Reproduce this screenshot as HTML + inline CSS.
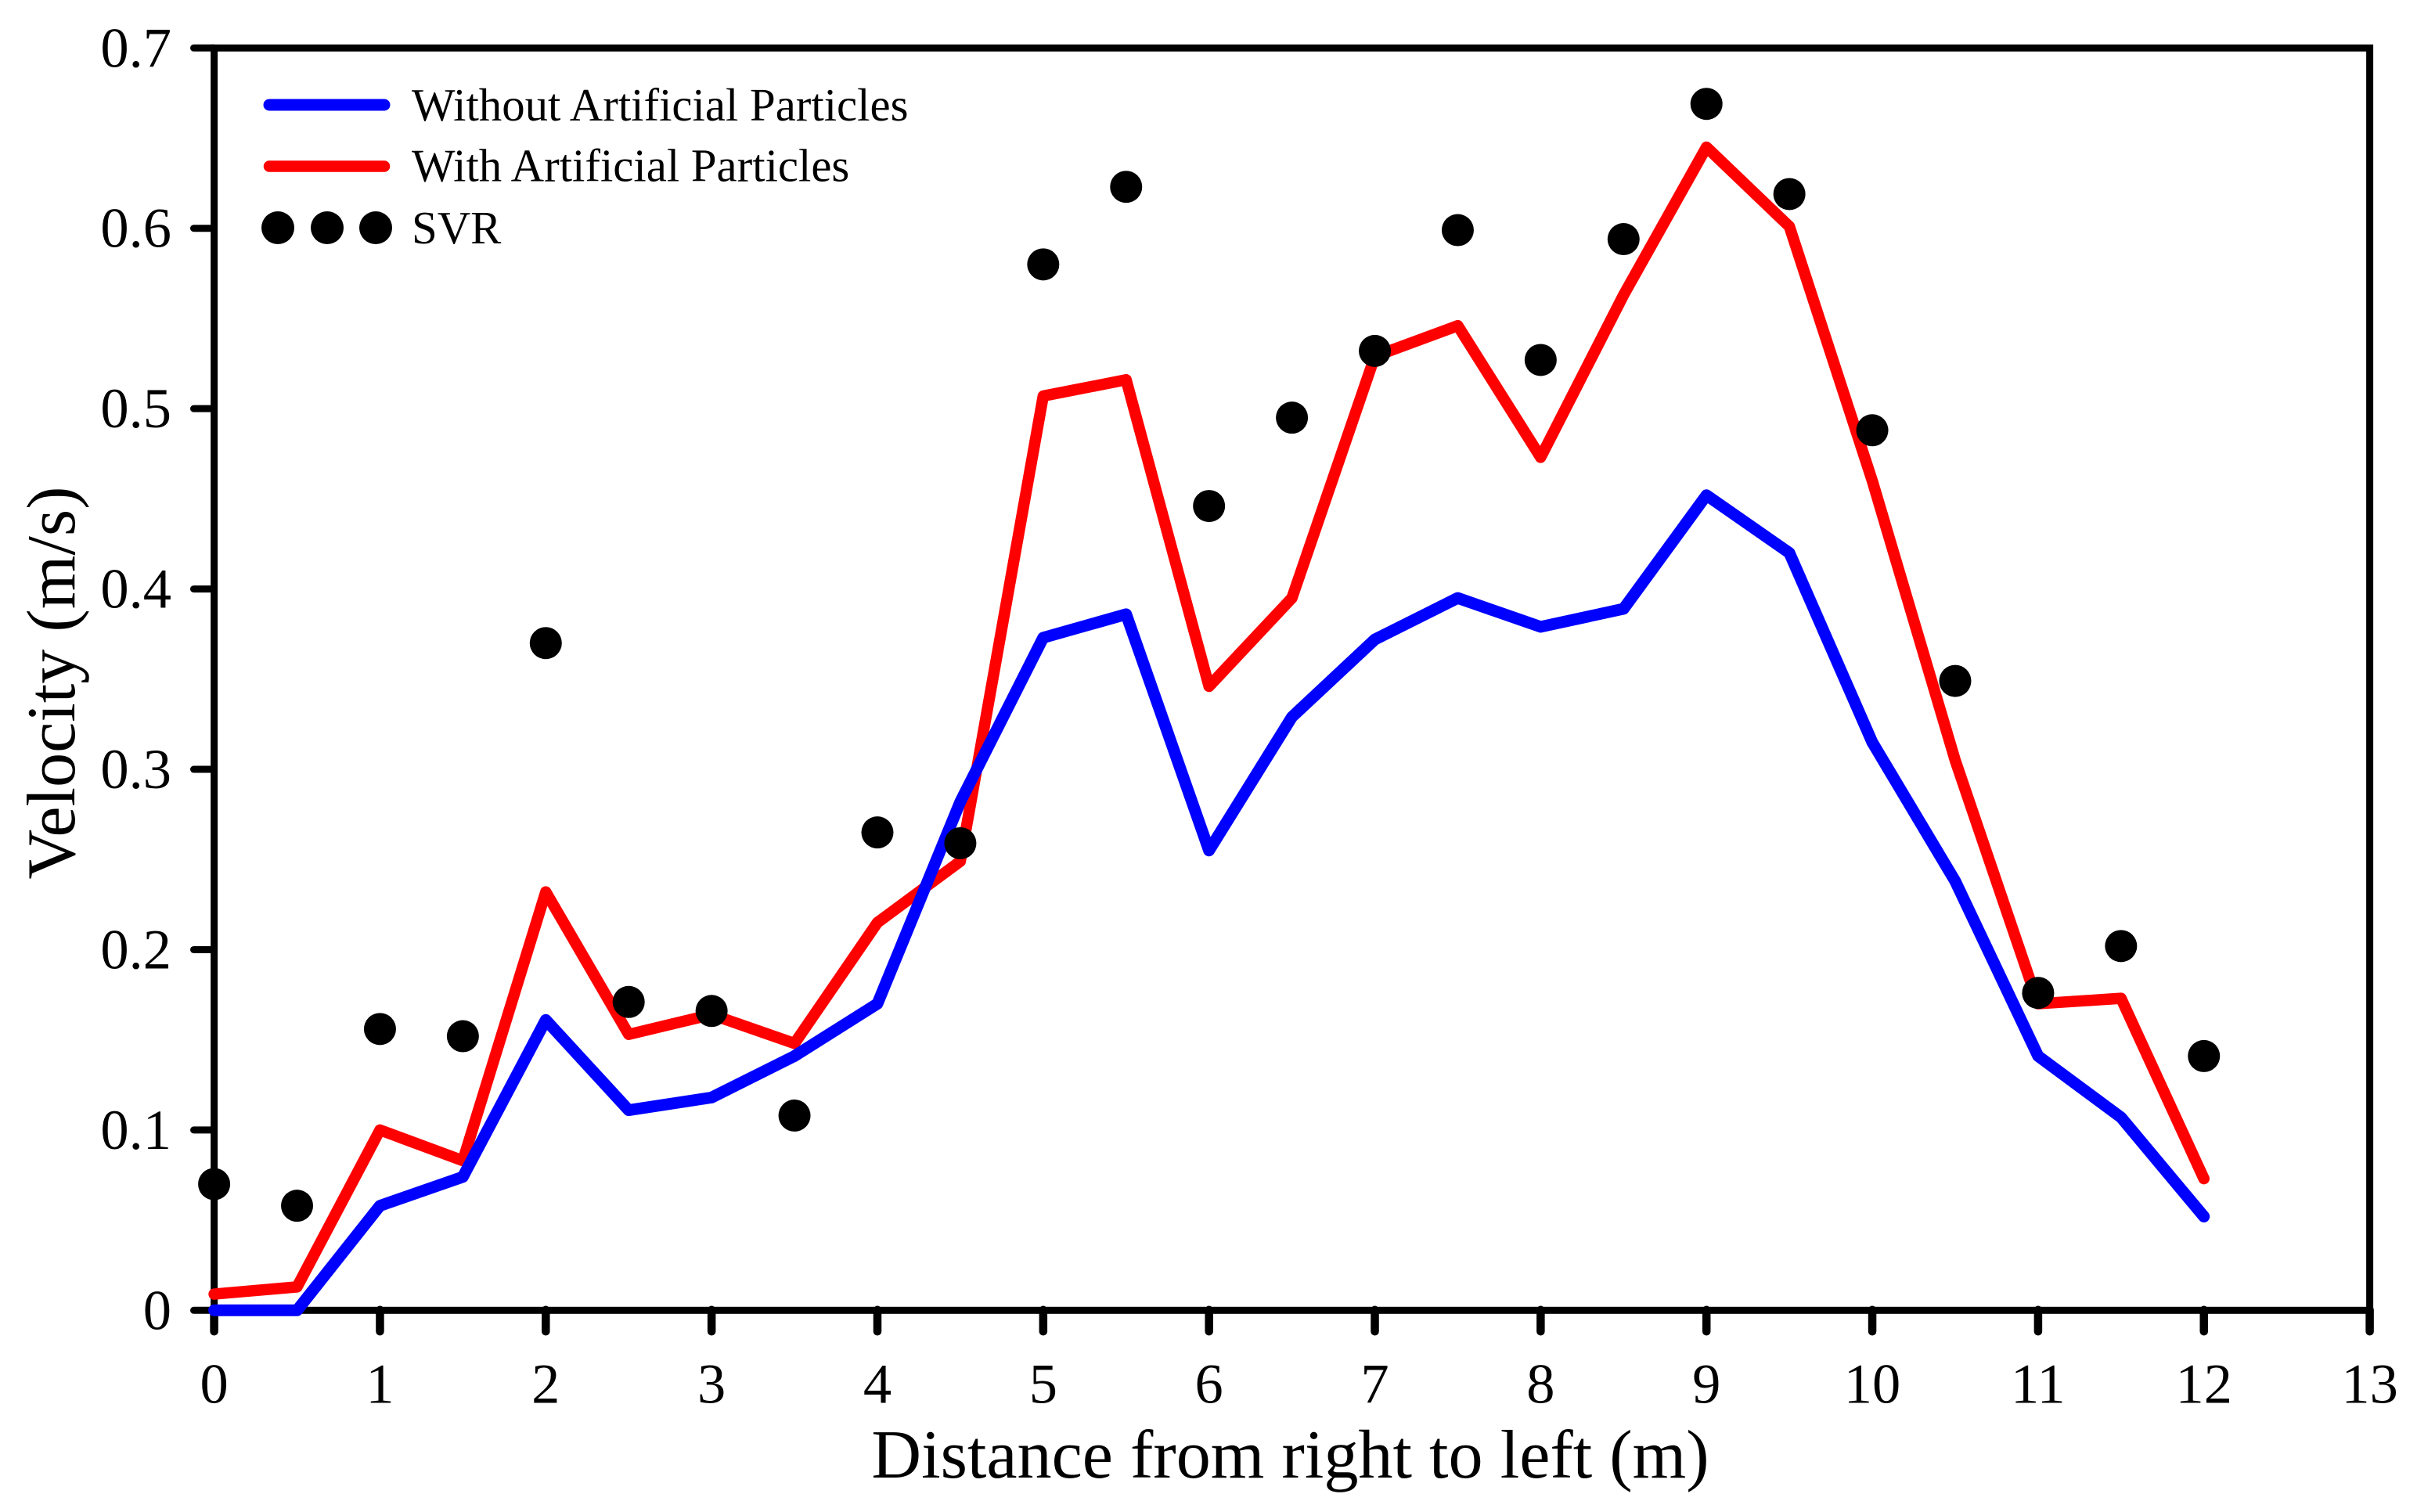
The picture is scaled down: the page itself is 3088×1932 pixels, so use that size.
<!DOCTYPE html>
<html lang="en">
<head>
<meta charset="utf-8">
<title>Velocity vs distance</title>
<style>
html,body{margin:0;padding:0;background:#fff;width:3088px;height:1932px;overflow:hidden}
svg{display:block}
text{font-family:"Liberation Serif","Times New Roman",serif;fill:#000}
.tick{font-size:72.5px}
.legend{font-size:58.8px}
.title{font-size:88.2px}
</style>
</head>
<body>
<svg id="chart" xmlns="http://www.w3.org/2000/svg" width="3088" height="1932" viewBox="0 0 3088 1932">
  <rect x="0" y="0" width="3088" height="1932" fill="#fff"/>
  <g id="axes"></g>
  <g id="series"></g>
  <text class="title" x="1648.5" y="1888" text-anchor="middle">Distance from right to left (m)</text>
  <text class="title" transform="translate(95 872.5) rotate(-90)" text-anchor="middle">Velocity (m/s)</text>
  <g>
    <line x1="344" y1="134" x2="491" y2="134" stroke="#0000ff" stroke-width="15" stroke-linecap="round"/>
    <text class="legend" x="526" y="154">Without Artificial Particles</text>
    <line x1="344" y1="212.5" x2="491" y2="212.5" stroke="#ff0000" stroke-width="14.5" stroke-linecap="round"/>
    <text class="legend" x="526" y="231.5">With Artificial Particles</text>
    <circle cx="355" cy="291" r="21"/>
    <circle cx="418" cy="291" r="21"/>
    <circle cx="480" cy="291" r="21"/>
    <text class="legend" x="526" y="311">SVR</text>
  </g>
</svg>
<script>
const distances = [0,0.5,1,1.5,2,2.5,3,3.5,4,4.5,5,5.5,6,6.5,7,7.5,8,8.5,9,9.5,10,10.5,11,11.5,12];
const withoutParticles = [0,0,0.058,0.074,0.161,0.111,0.118,0.141,0.170,0.282,0.373,0.386,0.255,0.329,0.372,0.395,0.379,0.389,0.452,0.420,0.315,0.238,0.141,0.107,0.052];
const withParticles = [0.009,0.013,0.100,0.083,0.232,0.153,0.164,0.148,0.215,0.249,0.507,0.516,0.346,0.395,0.529,0.546,0.473,0.563,0.645,0.601,0.460,0.305,0.170,0.173,0.073];
const svrValues = [0.070,0.058,0.156,0.152,0.370,0.171,0.166,0.108,0.265,0.259,0.580,0.623,0.446,0.495,0.532,0.599,0.527,0.594,0.669,0.619,0.488,0.349,0.176,0.202,0.141];
const xTicks = [0,1,2,3,4,5,6,7,8,9,10,11,12,13];
const yTicks = [0,0.1,0.2,0.3,0.4,0.5,0.6,0.7];
const yTickLabels = ["0","0.1","0.2","0.3","0.4","0.5","0.6","0.7"];

const SVG_NS = "http://www.w3.org/2000/svg";
const plot = {left:273.6, right:3027.6, top:61.3, bottom:1674.3, xMax:13, yMax:0.7};
function xScale(v){ return plot.left + (v / plot.xMax) * (plot.right - plot.left); }
function yScale(v){ return plot.bottom - (v / plot.yMax) * (plot.bottom - plot.top); }
function make(tag, attrs, parent){
  const el = document.createElementNS(SVG_NS, tag);
  for (const k in attrs) el.setAttribute(k, attrs[k]);
  parent.appendChild(el);
  return el;
}
const axes = document.getElementById("axes");
const series = document.getElementById("series");

const frame = make("rect", {x:plot.left, y:plot.top, width:plot.right-plot.left, height:plot.bottom-plot.top, fill:"none", stroke:"#000", "stroke-width":9}, axes);



xTicks.forEach(function(t){
  const mark = make("line", {x1:xScale(t), x2:xScale(t), y1:plot.bottom-0.5, y2:plot.bottom+27, stroke:"#000", "stroke-width":10.5, "stroke-linecap":"round"}, axes);
  
  
  const label = make("text", {class:"tick", x:xScale(t), y:1792.5, "text-anchor":"middle"}, axes);
  label.textContent = String(t);
  
  
});

yTicks.forEach(function(t, i){
  const mark = make("line", {x1:plot.left, x2:247.5, y1:yScale(t), y2:yScale(t), stroke:"#000", "stroke-width":9, "stroke-linecap":"round"}, axes);
  
  
  const label = make("text", {class:"tick", x:219, y:yScale(t)+24, "text-anchor":"end"}, axes);
  label.textContent = yTickLabels[i];
  
  
});

function linePoints(values){
  return values.map(function(v, i){ return xScale(distances[i]) + "," + yScale(v); }).join(" ");
}
const redLine = make("polyline", {points:linePoints(withParticles), fill:"none", stroke:"#ff0000", "stroke-width":14.5, "stroke-linecap":"round", "stroke-linejoin":"round"}, series);


const blueLine = make("polyline", {points:linePoints(withoutParticles), fill:"none", stroke:"#0000ff", "stroke-width":15, "stroke-linecap":"round", "stroke-linejoin":"round"}, series);



svrValues.forEach(function(v, i){
  const dot = make("circle", {cx:xScale(distances[i]), cy:yScale(v), r:20.5, fill:"#000"}, series);
  
  
});
</script>
</body>
</html>
